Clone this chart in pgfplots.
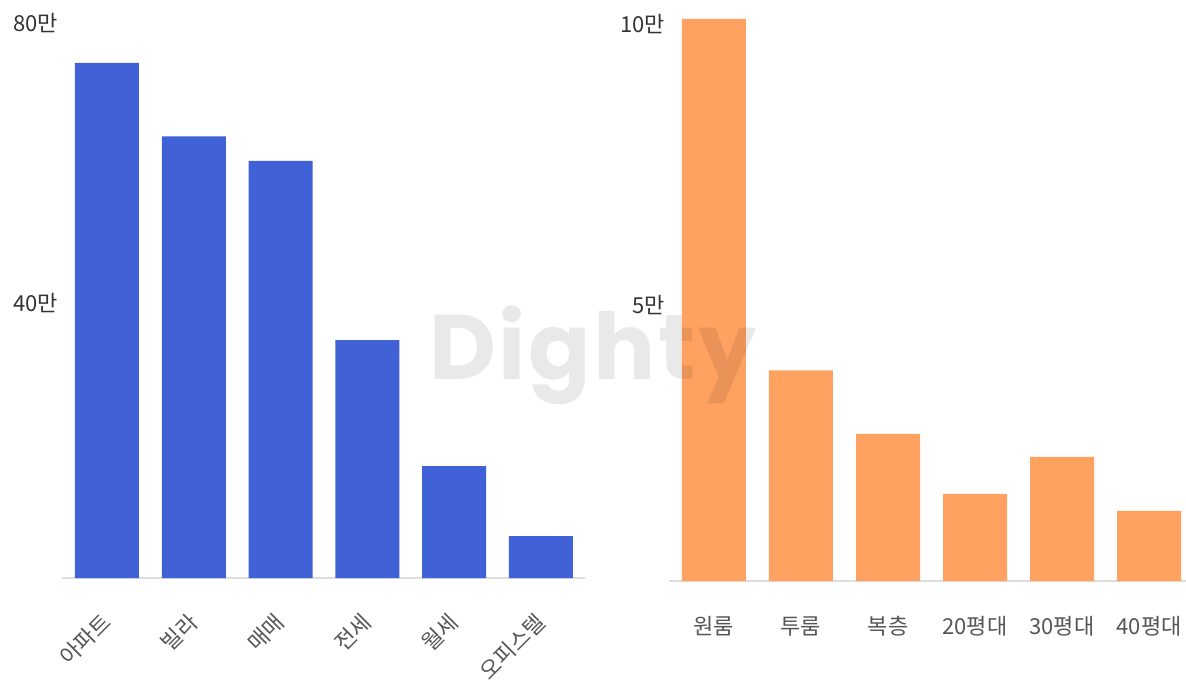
\documentclass[border=0pt]{standalone}
\usepackage{fontspec}
\setmainfont{Noto Sans CJK KR}
\newfontfamily\wmfont{Poppins}[LetterSpace=3]
\usepackage{pgfplots}
\pgfplotsset{compat=1.18}
\definecolor{barblue}{HTML}{4161D7}
\definecolor{barorange}{HTML}{FFA161}
\definecolor{axisgray}{HTML}{DDDDDD}
\definecolor{ylab}{HTML}{333333}
\definecolor{xlab}{HTML}{555555}
\pgfplotsset{mybar/.style={
  scale only axis,
  axis x line*=bottom, axis y line*=left,
  y axis line style={draw=none},
  x axis line style={axisgray, line width=1.5pt},
  major tick length=0pt,
  ymin=0,
  xtick=data,
  ytick style={draw=none}, xtick style={draw=none},
  yticklabel style={font=\fontsize{16.5}{20}\selectfont, text=ylab, anchor=east, inner sep=0pt, xshift=-3pt, yshift=-3.75pt},
  ybar, bar width=48pt,
  clip=false,
}}
\begin{document}
\begin{tikzpicture}
\useasboundingbox (0,0) rectangle (889.5pt,509.25pt);
\begin{axis}[mybar, at={(46.5pt,75.75pt)}, anchor=south west,
  width=392.25pt, height=420pt, xmin=-0.518, xmax=5.507, ymax=80,
  ytick={40,80}, yticklabels={40만,80만},
  xticklabels={아파트,빌라,매매,전세,월세,오피스텔},
  xticklabel style={rotate=45, anchor=east, text=xlab, inner sep=0pt, font=\fontsize{16.5}{20}\selectfont},
  xticklabel shift=30pt]
\addplot[draw=none, fill=barblue] coordinates {(0,73.6) (1,63.1) (2,59.6) (3,34) (4,16) (5,6)};
\end{axis}
\begin{axis}[mybar, at={(501.75pt,73.5pt)}, anchor=south west,
  width=393.75pt, height=421.5pt, xmin=-0.517, xmax=5.517, ymax=10,
  ytick={5,10}, yticklabels={5만,10만},
  xticklabels={원룸,투룸,복층,20평대,30평대,40평대},
  xticklabel style={anchor=center, text=xlab, inner sep=0pt, font=\fontsize{16.5}{20}\selectfont},
  xticklabel shift=33.75pt]
\addplot[draw=none, fill=barorange] coordinates {(0,10) (1,3.75) (2,2.62) (3,1.55) (4,2.21) (5,1.25)};
\end{axis}
\node[anchor=base, text=black, opacity=0.085, font=\wmfont\bfseries\fontsize{69}{75}\selectfont] at (444.75pt,224.25pt) {Dighty};
\end{tikzpicture}
\end{document}
